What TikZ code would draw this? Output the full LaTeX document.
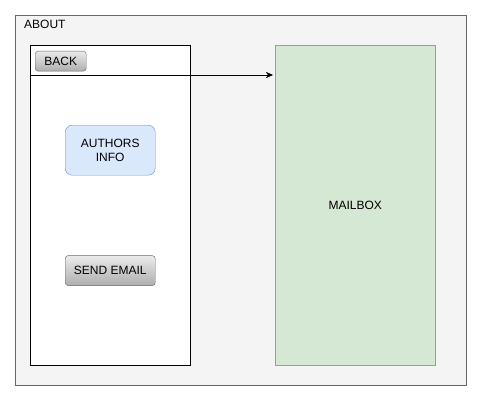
\documentclass[tikz,border=0pt]{standalone}
\usepackage{fontspec}
\setmainfont{Liberation Sans}
\usepackage{tikz}
\usetikzlibrary{positioning, arrows.meta}

\definecolor{frameGray}{HTML}{F4F4F4}
\definecolor{frameLine}{HTML}{666666}
\definecolor{mailFill}{HTML}{D5E8D4}
\definecolor{mailLine}{HTML}{82B366}
\definecolor{infoFill}{HTML}{DAE8FC}
\definecolor{infoLine}{HTML}{6C8EBF}

\tikzset{
    btn/.style={draw=frameLine, rounded corners=3pt, top color=white!92!black, bottom color=black!32, inner sep=0pt},
}

\begin{document}
\begin{tikzpicture}[x=1pt, y=-1pt, font=\fontsize{12}{14}\selectfont]
        \useasboundingbox (0,0) rectangle (481,401);
        \node[draw=frameLine, fill=frameGray, minimum width=451pt, minimum height=370pt, inner sep=0pt, anchor=north west] (about) at (15,15) {};
        \node[anchor=north west, inner sep=0pt] (title) at (24,19.5) {ABOUT};
        \node[draw, fill=white, minimum width=160pt, minimum height=320pt, inner sep=0pt, anchor=north west] (phone) at (30,45) {};
        \node[draw=mailLine, fill=mailFill, minimum width=160pt, minimum height=320pt, inner sep=0pt, anchor=north west] (mail) at (275,45) {};
        \node at (mail.center) {MAILBOX};
        %---------------------------
        \node[btn, minimum width=51pt, minimum height=20pt, anchor=north west] (back) at (35,51) {BACK};
        \node[draw=infoLine, fill=infoFill, rounded corners=7pt, minimum width=90pt, minimum height=50pt, align=center, inner sep=0pt, anchor=north west] (info) at (65,125) {AUTHORS\\INFO};
        \node[btn, minimum width=90pt, minimum height=30pt, below=80pt of info] (send) {SEND EMAIL};
        %--------------------------
        \coordinate (bar) at (30,75);
        \draw (bar) -- (phone.east |- bar);
        \draw[-{Stealth[length=7pt, width=6pt, inset=2pt]}, shorten >=2pt] (bar) -- (mail.west |- bar);
\end{tikzpicture}
\end{document}
